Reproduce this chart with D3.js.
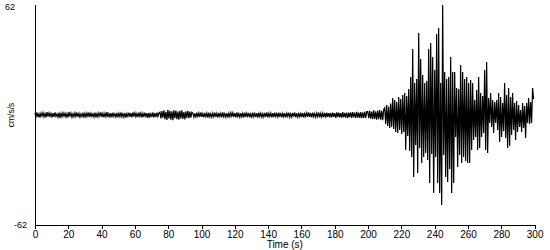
<!DOCTYPE html>
<html>
<head>
<meta charset="utf-8">
<script src="https://cdn.jsdelivr.net/npm/d3@7"></script>
<style>
  body { margin: 0; background: #fff; }
  text { font-family: Arial, "Liberation Sans", sans-serif; fill: #000; }
</style>
</head>
<body>
<div id="chart"></div>
<script>
// acceleration record, cm/s/s, one sample every 0.6 s
const dt = 0.6
const preEvent = [
  1.1,-0.9,1.4,-1.2,0.7,-1.5,1.0,-0.6,1.3,-1.1,
  0.8,-1.3,1.6,-0.9,1.2,-0.7,0.9,-1.4,1.1,-1.0,
  1.5,-0.8,0.6,-1.2,1.3,-1.6,0.9,-1.0,1.2,-0.7,
  1.0,-1.1,0.8,-1.4,1.7,-0.9,1.1,-1.2,0.7,-1.0,
  1.2,-0.8,1.4,-1.1,0.9,-1.3,0.6,-0.9,1.3,-1.5,
  0.9,-1.0,1.1,-0.7,1.4,-1.2,1.0,-0.8,0.7,-1.1,
  1.3,-1.4,0.8,-1.0,1.2,-0.6,1.5,-1.1,0.9,-1.3,
  1.0,-0.9,1.6,-1.2,0.8,-1.0,1.1,-1.4,1.3,-0.8,
  0.7,-1.1,1.2,-1.3,1.0,-0.9,1.4,-1.0,0.8,-1.2,
  1.1,-1.5,0.9,-0.8,1.3,-1.1,1.0,-1.3,1.5,-0.9,
  1.2,-1.0,0.8,-1.2,1.4,-0.7,1.1,-1.4,0.9,-1.1,
  1.3,-0.9,1.0,-1.6,1.2,-1.0,0.7,-1.2,1.5,-1.3,
  1.0,-1.2,1.4,-0.8,1.1
]
const firstBurst = [
  1.6,-1.9,2.2,-1.5,2.6,-2.3,1.8,-2.8,2.9,-2.0,
  2.4,-2.6,2.1,-2.9,2.7,-1.8,2.5,-2.4,2.0,-2.7,
  2.3,-1.9,2.6,-2.2,1.7,-2.5,2.1,-1.6,2.4,-1.8,
  1.9,-1.5,1.6
]
const quietMid = [
  1.0,-1.2,0.9,-1.4,1.3,-0.8,1.1,-1.0,1.5,-1.1,
  0.8,-1.3,1.2,-0.9,1.0,-1.5,1.4,-1.0,0.7,-1.2,
  1.1,-0.9,1.3,-1.1,0.9,-1.4,1.2,-0.8,1.0,-1.3,
  1.5,-1.0,0.8,-1.2,1.1,-1.4,0.9,-1.0,1.3,-0.7,
  1.2,-1.1,1.0,-1.3,1.4,-0.9,0.8,-1.2,1.1,-1.0,
  0.9,-1.4,1.3,-1.1,1.0,-0.8,1.2,-1.3,0.7,-1.1,
  1.4,-1.0,0.9,-1.2,1.1,-1.5,1.3,-0.9,1.0,-1.2,
  0.8,-1.1,1.2,-1.0,1.5,-1.3,0.9,-0.8,1.1,-1.4,
  1.0,-1.2,1.3,-0.9,0.8,-1.1,1.4,-1.0,1.2,-1.3,
  0.9,-1.0,1.1,-1.4,1.0,-0.8,1.3,-1.2,0.7,-1.1,
  1.2,-0.9,1.4,-1.3,1.0,-1.1,0.8,-1.0,1.3,-1.2,
  1.1,-1.4,0.9,-0.8,1.2,-1.0,1.5,-1.1,1.0,-1.3,
  1.3,-1.0,0.8,-1.2,1.1,-0.9,1.4,-1.3,0.9,-1.1,
  1.0,-1.2,1.2,-1.5,1.3,-1.0,1.1,-1.4,1.2,-1.3,
  1.4,-1.1,1.0,-1.6,1.5,-1.2,1.3,-1.4,1.1,-1.5,
  1.6,-1.3,1.2,-1.5,1.4,-1.7,1.3,-1.2,1.5,-1.6,
  1.7,-1.4,1.3,-1.6,1.8,-1.5,1.4,-1.7,1.6,-1.8,
  1.5,-1.6,1.9,-1.7,1.8
]
const onset = [
  2.0,-1.8,2.3,-2.1,1.9,-2.4,2.6,-2.2,2.0,-2.7,
  2.5,-2.3,2.8,-2.6,2.4,-2.9,3.1
]
const strongMotion = [
  4.0,-5.1,5.6,-6.2,4.8,-7.3,6.5,-6.8,9.6,-7.9,
  8.5,-9.6,7.3,-10.1,10.1,-8.5,9.0,-10.7,11.3,-9.6,
  12.4,-19.7,10.7,-11.8,14.7,-20.3,21.4,-23.7,37.2,-34.9,
  18.0,-16.9,20.3,-32.7,46.2,-18.6,31.6,-27.0,22.5,-23.7,
  18.0,-21.4,19.2,-25.4,37.2,-38.3,40.6,-22.0,32.7,-44.0,
  25.4,-23.7,45.6,-38.3,49.0,-44.0,18.0,-50.7,62.0,-22.5,
  24.2,-34.9,20.3,-37.7,21.4,-30.4,32.7,-44.0,24.2,-38.3,
  24.2,-12.4,15.2,-29.3,14.7,-22.5,28.2,-27.0,24.2,-23.7,
  20.3,-25.9,21.4,-27.0,18.0,-27.0,19.7,-19.7,18.0,-14.1,
  8.5,-12.4,14.1,-19.7,21.4,-18.6,12.4,-12.4,10.7,-10.1,
  25.4,-19.7,29.9,-21.4,9.6,-4.5,12.4,-6.8,8.5,-10.1,
  7.3,-4.5,8.5,-8.5,12.4,-15.2,10.1,-12.4,6.8,-9.0,
  18.0,-13.0,11.3,-18.6,15.2,-17.5,10.1,-11.3,12.4,-8.5,
  6.8,-14.1,7.9,-9.6,5.6,-6.8,2.8,-9.6,6.8,-7.3,
  5.1,-13.0,6.8,-4.5,9.6,-5.1,7.3,-4.5,15.2,9.0
]
const accel = [].concat(preEvent, firstBurst, quietMid, onset, strongMotion)
const xTicks = d3.range(0, 301, 20)
const yMax = 62

const margin = {top:5, right:15.4, bottom:25, left:35},
  width = 550 - margin.left - margin.right,
  height = 250 - margin.top - margin.bottom;
const x = d3.scaleLinear().domain([0, 300]).range([0, width])
const y = d3.scaleLinear().domain([-yMax, yMax]).range([height, 0])

const svg = d3.select("#chart")
  .append("svg")
    .attr("width", 550)
    .attr("height", 250)
  .append("g")
    .attr("transform", "translate(" + margin.left + "," + margin.top + ")");

// trace
svg.append("path")
  .datum(accel)
  .attr("fill", "none")
  .attr("stroke", "black")
  .attr("stroke-width", 1.2)
  .attr("stroke-linejoin", "miter")
  .attr("d", d3.line().x((d, i) => x(i * dt)).y(d => y(d)))

//x axis
const xa = svg.append("g")
  .attr("transform", "translate(0," + height + ")")
  .call(d3.axisBottom(x)
    .tickValues(xTicks)
    .tickSize(4)
    .tickSizeOuter(0)
    .tickPadding(2)
    .tickFormat(d3.format("d")))
xa.selectAll("text").style("font-size", "10px").style("font-family", "Arial, 'Liberation Sans', sans-serif")
xa.selectAll("path,line").attr("stroke", "black").attr("shape-rendering", "crispEdges")
xa.append("text")
  .attr("x", width / 2)
  .attr("y", 23)
  .attr("text-anchor", "middle")
  .style("font-size", "10px")
  .text("Time (s)")

//y axis
svg.append("line")
  .attr("x1", 0).attr("x2", 0)
  .attr("y1", y(yMax)).attr("y2", y(-yMax))
  .attr("stroke", "black")
  .attr("shape-rendering", "crispEdges")
svg.append("text")
  .attr("x", -30)
  .attr("y", y(yMax) + 4.5)
  .style("font-size", "9px")
  .text(yMax)
svg.append("text")
  .attr("x", -21)
  .attr("y", y(-yMax) + 3)
  .style("font-size", "9px")
  .text(-yMax)
svg.append("text")
  .attr("transform", "rotate(-90)")
  .attr("x", -y(0))
  .attr("y", -21)
  .attr("text-anchor", "middle")
  .style("font-size", "8.5px")
  .text("cm/s/s")
</script>
</body>
</html>
